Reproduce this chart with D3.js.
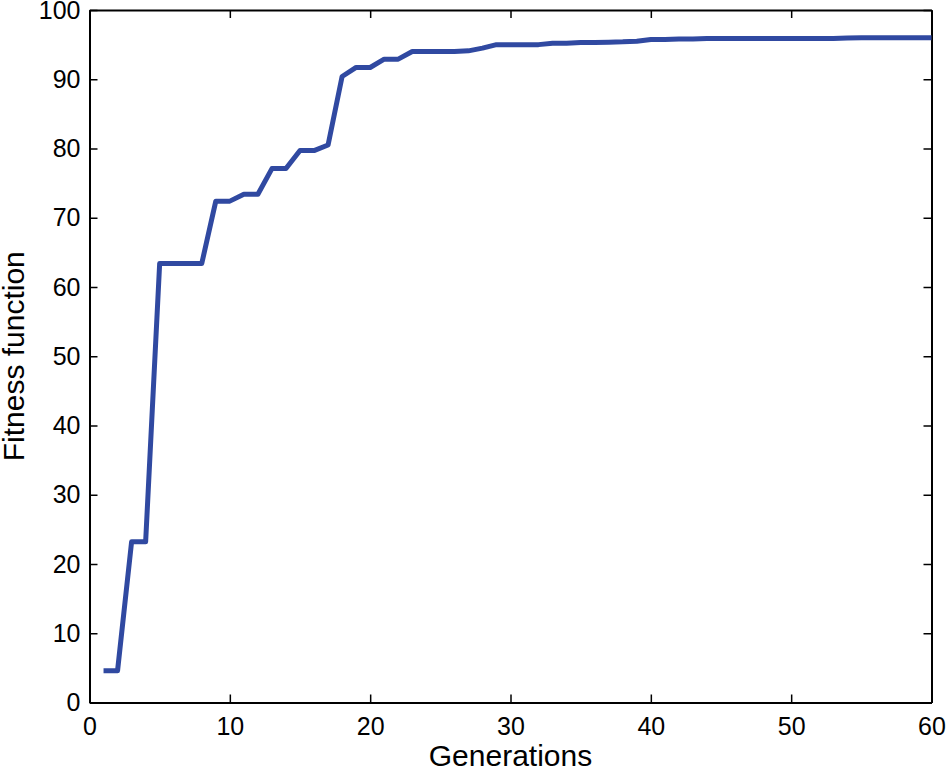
<!DOCTYPE html>
<html>
<head>
<meta charset="utf-8">
<script src="https://cdn.jsdelivr.net/npm/d3@7"></script>
<style>
  body { margin: 0; background: #fff; }
  svg text { font-family: "Liberation Sans", Arial, sans-serif; fill: #000; }
</style>
</head>
<body>
<div id="fig"></div>
<script>
// fitness per generation
var generations = d3.range(1, 61);
var fitness = [
  4.6, 4.6, 23.2, 23.2, 63.4, 63.4, 63.4, 63.4, 72.4, 72.4,
  73.4, 73.4, 77.1, 77.1, 79.7, 79.7, 80.5, 90.4, 91.7, 91.7,
  92.9, 92.9, 94.0, 94.0, 94.0, 94.0, 94.1, 94.5, 95.0, 95.0,
  95.0, 95.0, 95.2, 95.2, 95.3, 95.3, 95.35, 95.4, 95.5, 95.75,
  95.75, 95.8, 95.8, 95.9, 95.9, 95.9, 95.9, 95.9, 95.9, 95.9,
  95.9, 95.9, 95.9, 95.95, 96.0, 96.0, 96.0, 96.0, 96.0, 96.0
];
var xTicks = [0, 10, 20, 30, 40, 50, 60];
var yTicks = [0, 10, 20, 30, 40, 50, 60, 70, 80, 90, 100];

var width = 952, height = 772;
var m = {left: 89.5, right: 20.5, top: 10, bottom: 69.5};

var svg = d3.select("#fig").append("svg")
    .attr("width", width)
    .attr("height", height);

var x = d3.scaleLinear().domain([0, 60]).range([m.left, width - m.right]);
var y = d3.scaleLinear().domain([0, 100]).range([height - m.bottom, m.top]);

var tickLen = 8;

// box axes, matlab style: ticks pointing in
var axB = svg.append("g")
    .attr("transform", "translate(0," + y(0) + ")")
    .call(d3.axisBottom(x).tickValues(xTicks).tickSizeInner(-tickLen).tickSizeOuter(0).tickPadding(15));
var axT = svg.append("g")
    .attr("transform", "translate(0," + y(100) + ")")
    .call(d3.axisTop(x).tickValues(xTicks).tickSizeInner(-tickLen).tickSizeOuter(0).tickFormat(""));
var axL = svg.append("g")
    .attr("transform", "translate(" + x(0) + ",0)")
    .call(d3.axisLeft(y).tickValues(yTicks).tickSizeInner(-tickLen).tickSizeOuter(0).tickPadding(9));
var axR = svg.append("g")
    .attr("transform", "translate(" + x(60) + ",0)")
    .call(d3.axisRight(y).tickValues(yTicks).tickSizeInner(-tickLen).tickSizeOuter(0).tickFormat(""));

[axB, axT, axL, axR].forEach(function(a) {
  a.select(".domain").attr("stroke", "#000").attr("stroke-width", 2);
  a.selectAll(".tick line").attr("stroke", "#000").attr("stroke-width", 1.5);
  a.selectAll(".tick text").style("font-size", "25px").attr("fill", "#000");
});

var line = d3.line()
    .x(function(d, i) { return x(generations[i]); })
    .y(function(d) { return y(d); });

svg.append("path")
    .datum(fitness)
    .attr("d", line)
    .attr("fill", "none")
    .attr("stroke", "#3049a1")
    .attr("stroke-width", 5)
    .attr("stroke-linejoin", "round");

svg.append("text")
    .attr("x", x(30))
    .attr("y", 766)
    .attr("text-anchor", "middle")
    .style("font-size", "30px")
    .text("Generations");

svg.append("text")
    .attr("transform", "translate(24," + y(50) + ") rotate(-90)")
    .attr("text-anchor", "middle")
    .style("font-size", "30px")
    .text("Fitness function");
</script>
</body>
</html>
